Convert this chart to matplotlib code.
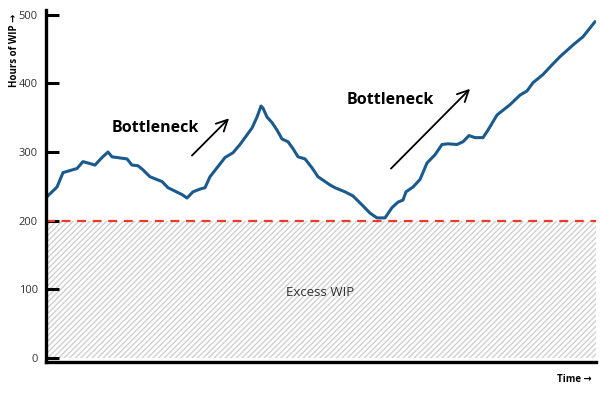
import matplotlib.pyplot as plt

plt.rcParams["font.family"] = ["Open Sans", "DejaVu Sans"]

# time steps (arbitrary units) and hours of WIP
time = [0, 1, 11, 17, 24, 31, 37, 42, 49, 56, 62, 66, 71, 81, 86, 92, 97, 104,
        109, 116, 122, 129, 136, 141, 147, 154, 159, 164, 171, 179, 187, 194,
        201, 206, 211, 215, 217, 221, 226, 231, 236, 242, 247, 252, 259, 266,
        272, 279, 284, 289, 299, 307, 316, 324, 331, 339, 346, 352, 357, 360,
        367, 374, 381, 389, 396, 402, 411, 417, 423, 429, 437, 442, 451, 464,
        474, 481, 487, 497, 506, 514, 527, 537, 549]
wip = [230, 235, 249, 270, 273, 276, 286, 284, 281, 292, 300, 293, 292, 290,
       281, 280, 274, 264, 261, 257, 248, 243, 238, 233, 242, 246, 248, 264,
       277, 292, 299, 311, 325, 335, 351, 367, 364, 351, 343, 332, 319, 315,
       305, 293, 290, 277, 264, 257, 252, 248, 242, 236, 223, 211, 204, 204,
       219, 227, 230, 242, 249, 260, 284, 296, 311, 312, 311, 315, 324, 321,
       321, 332, 354, 369, 383, 389, 401, 413, 427, 439, 456, 468, 490]

yticks = [0, 100, 200, 300, 400, 500]
threshold = 200

fig = plt.figure(figsize=(6, 3.93), dpi=100)
ax = fig.add_axes([46 / 600, 31 / 393, 550 / 600, 352 / 393])

ax.fill_between([0, 550], 0, threshold, facecolor="white", edgecolor="#d0d0d0",
                hatch="//////", linewidth=0)
ax.axhline(threshold, color="#ee3a2a", linestyle=(0, (4, 3)), linewidth=1.6)
ax.plot(time, wip, color="#1b5a8c", linewidth=2.2, solid_joinstyle="round",
        solid_capstyle="round")

ax.set_xlim(0, 550)
ax.set_ylim(-6, 507)
ax.set_yticks(yticks)
ax.set_xticks([])
ax.tick_params(axis="y", direction="in", length=9, width=2.2,
               labelsize=8, colors="black", labelcolor="#333333", pad=6)

for s in ["top", "right"]:
    ax.spines[s].set_visible(False)
for s in ["left", "bottom"]:
    ax.spines[s].set_linewidth(2.4)

ax.text(109, 335, "Bottleneck", fontsize=11.5, fontweight="bold", ha="center", va="center")
ax.text(344, 376, "Bottleneck", fontsize=11.5, fontweight="bold", ha="center", va="center")
ax.annotate("", xy=(185, 352), xytext=(144, 292),
            arrowprops=dict(arrowstyle="->", color="black", lw=1.3, mutation_scale=20))
ax.annotate("", xy=(426, 395), xytext=(343, 273),
            arrowprops=dict(arrowstyle="->", color="black", lw=1.3, mutation_scale=20))
ax.text(274, 95, "Excess WIP", fontsize=9.5, color="#333333", ha="center", va="center")

fig.text(15 / 600, 1 - 50 / 393, "Hours of WIP \u2192", rotation=90, fontsize=7,
         fontweight="bold", ha="center", va="center")
fig.text(574 / 600, 1 - 379 / 393, "Time \u2192", fontsize=7, fontweight="bold",
         ha="center", va="center")

fig.savefig("out.png", dpi=100)
